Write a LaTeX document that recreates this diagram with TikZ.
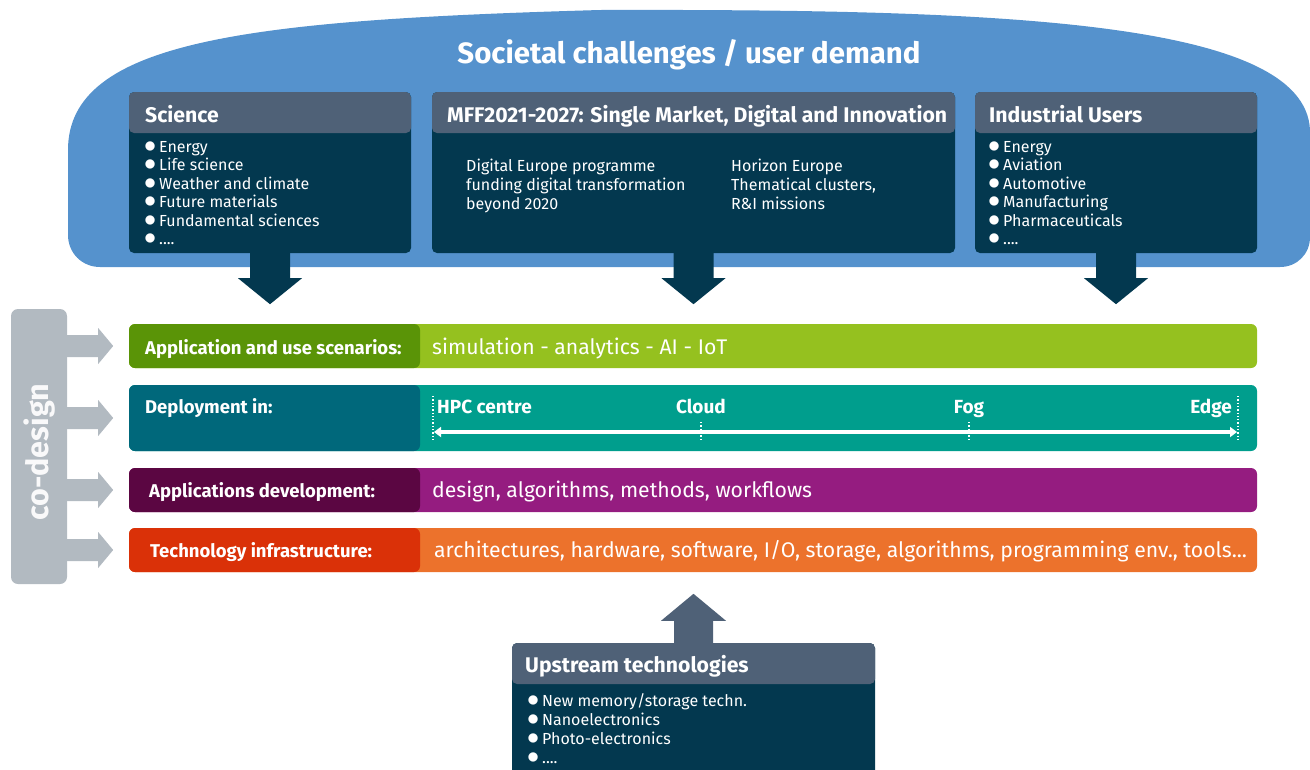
\documentclass[tikz,border=0pt]{standalone}
\usepackage{fontspec}
\setmainfont{Fira Sans}
\usetikzlibrary{calc,arrows.meta}
\definecolor{cloud}{HTML}{5592CD}
\definecolor{hdr}{HTML}{4F6177}
\definecolor{body}{HTML}{03384F}
\definecolor{cdgrey}{HTML}{B2BAC1}
\definecolor{gA}{HTML}{5A9407}
\definecolor{gB}{HTML}{95C11F}
\definecolor{tA}{HTML}{00687B}
\definecolor{tB}{HTML}{009E8D}
\definecolor{pA}{HTML}{5B0642}
\definecolor{pB}{HTML}{951C80}
\definecolor{oA}{HTML}{DA3108}
\definecolor{oB}{HTML}{EC722C}
\newcommand\bul{\makebox[15pt][l]{\scalebox{1.4}{$\bullet$}}}
\newcommand\fdots{....}
\tikzset{
  every node/.style={inner sep=0pt, text=white},
  panel/.style={rounded corners=5pt, fill=body,
    path picture={\fill[hdr] (path picture bounding box.north west) rectangle ([yshift=-41pt]path picture bounding box.north east);}},
  hdrtxt/.style={font=\fontsize{21.2}{21}\selectfont\bfseries, anchor=base west},
  item/.style={font=\fontsize{16}{16}\selectfont, anchor=base west, text height=11.5pt, text depth=3.5pt},
  rowbox/.style={rounded corners=6pt, minimum width=1128pt, fill=#1},
  split/.style={path picture={\fill[#1] (path picture bounding box.south west) rectangle ([xshift=291pt]path picture bounding box.north west);}},
  rowlbl/.style={font=\fontsize{18.5}{18}\selectfont\bfseries, anchor=base west},
  rowtxt/.style={font=\fontsize{21.2}{21}\selectfont, anchor=base west},
  deptxt/.style={font=\fontsize{19}{19}\selectfont\bfseries},
  dots/.style={draw=white, dotted, line width=1.3pt},
}
\begin{document}
\begin{tikzpicture}[x=1pt,y=-1pt]
\useasboundingbox (0,0) rectangle (1310,769);
% cloud
\fill[cloud] (100,267) -- (1280,267) .. controls (1297,267) and (1310,254) .. (1310,237)
  -- (1310,130) .. controls (1305,20) and (1000,9) .. (600,10)
  .. controls (250,20) and (68,40) .. (68,150) -- (68,235)
  .. controls (68,253) and (82,267) .. (100,267) -- cycle;
\node[font=\fontsize{29.4}{29}\selectfont\bfseries, anchor=base] (title) at (689,63) {Societal challenges / user demand};

% panels
\node[panel, minimum width=282pt, minimum height=161pt] (sci) at (270,172.5) {};
\node[panel, minimum width=523pt, minimum height=161pt] (mff) at (693.5,172.5) {};
\node[panel, minimum width=282pt, minimum height=161pt] (ind) at (1116,172.5) {};

% down arrows
\foreach \n in {sci,mff,ind}{
  \fill[body] ($(\n.south)+(-20,-2)$) -- ++(0,27) -- ++(-12,0) -- ++(32,26) -- ++(32,-26) -- ++(-12,0) -- ++(0,-27) -- cycle;
}

\node[hdrtxt] (scih) at (145,122) {Science};
\node[hdrtxt] (mffh) at (447,122) {MFF2021-2027: Single Market, Digital and Innovation};
\node[hdrtxt] (indh) at (989,122) {Industrial Users};

\foreach \t [count=\i] in {Energy,Life science,Weather and climate,Future materials,Fundamental sciences,\fdots}
  \node[item] (sci\i) at (144,{133.5+18.5*\i}) {\bul\t};
\foreach \t [count=\i] in {Energy,Aviation,Automotive,Manufacturing,Pharmaceuticals,\fdots}
  \node[item] (ind\i) at (988,{133.5+18.5*\i}) {\bul\t};

\foreach \t [count=\i] in {Digital Europe programme,funding digital transformation,beyond 2020}
  \node[item] (de\i) at (466,{152+19*\i}) {\t};
\foreach \t [count=\i] in {Horizon Europe,{Thematical clusters,},R\&I missions}
  \node[item] (he\i) at (731,{152+19*\i}) {\t};

% co-design
\node[fill=cdgrey, rounded corners=7pt, minimum width=56pt, minimum height=275pt] (cod) at (39,446.5) {};
\node[rotate=90, text=white!92!cdgrey, font=\fontsize{30.5}{30}\selectfont\bfseries] (codt) at (40,452) {co-design};

% rows
\node[rowbox=gB, split=gA, minimum height=44pt] (row1) at (693,346) {};
\node[rowbox=tB, split=tA, minimum height=66pt] (row2) at (693,418) {};
\node[rowbox=pB, split=pA, minimum height=44pt] (row3) at (693,490) {};
\node[rowbox=oB, split=oA, minimum height=44pt] (row4) at (693,550) {};

\foreach \r in {row1,row2,row3,row4}{
  \fill[cdgrey] (cod.east |- \r.west) ++(-3,-11) -- ++(34,0) -- ++(0,-7) -- ++(15,18) -- ++(-15,18) -- ++(0,-7) -- ++(-34,0) -- cycle;
}

\node[rowlbl] (l1) at (145,354) {Application and use scenarios:};
\node[rowtxt] (t1) at (432,354) {simulation - analytics - AI - IoT};
\node[rowlbl] (l2) at (145,413) {Deployment in:};
\node[rowlbl] (l3) at (149,497) {Applications development:};
\node[rowtxt] (t3) at (432,497) {design, algorithms, methods, workflows};
\node[rowlbl] (l4) at (150,557) {Technology infrastructure:};
\node[rowtxt] (t4) at (434,557) {architectures, hardware, software, I/O, storage, algorithms, programming env., tools...};

% deployment scale
\coordinate (hpc) at (433,432);
\coordinate (cld) at (701,432);
\coordinate (fog) at (969,432);
\coordinate (edg) at (1238,432);
\draw[dots] ($(hpc)+(0,-36)$) -- ($(hpc)+(0,9)$);
\draw[dots] ($(edg)+(0,-36)$) -- ($(edg)+(0,9)$);
\draw[dots] ($(cld)+(0,-10)$) -- ($(cld)+(0,9)$);
\draw[dots] ($(fog)+(0,-10)$) -- ($(fog)+(0,9)$);
\draw[white, line width=3.2pt, {Triangle[length=7pt,width=10pt]}-{Triangle[length=7pt,width=10pt]}] ($(hpc)+(1,0)$) -- ($(edg)+(-1,0)$);
\node[deptxt, anchor=base west] (hpct) at (437,413) {HPC centre};
\node[deptxt, anchor=base] (cldt) at (701,413) {Cloud};
\node[deptxt, anchor=base] (fogt) at (969,413) {Fog};
\node[deptxt, anchor=base east] (edgt) at (1232,413) {Edge};

% upstream
\node[panel, minimum width=363pt, minimum height=145pt] (up) at (693.5,715.5) {};
\fill[hdr] ($(up.north)+(-19.5,2)$) -- ++(0,-24) -- ++(-13,0) -- ++(32.5,-27) -- ++(32.5,27) -- ++(-13,0) -- ++(0,24) -- cycle;
\node[hdrtxt] (uph) at (525,672) {Upstream technologies};
\foreach \t [count=\i] in {New memory/storage techn.,Nanoelectronics,Photo-electronics,\fdots}
  \node[item] (up\i) at (527,{687+19*\i}) {\bul\t};
\end{tikzpicture}
\end{document}
